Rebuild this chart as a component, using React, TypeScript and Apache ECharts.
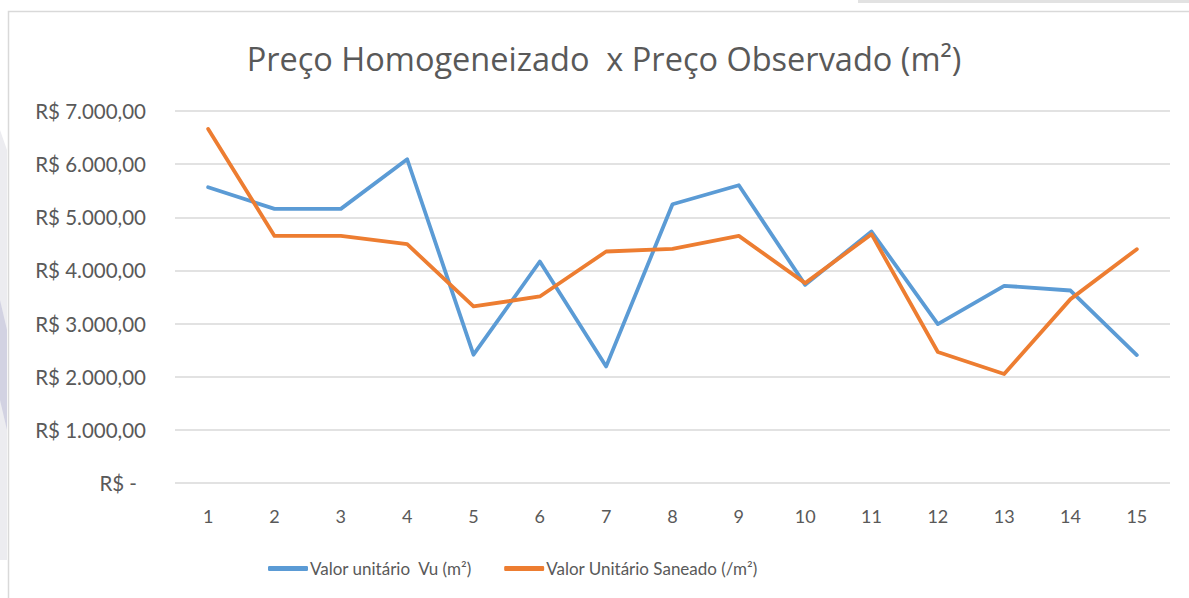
import React, { useEffect, useRef } from "react";
import * as echarts from "echarts";

const categories = ["1", "2", "3", "4", "5", "6", "7", "8", "9", "10", "11", "12", "13", "14", "15"];
const valorUnitario = [5566, 5158, 5158, 6092, 2414, 4168, 2194, 5246, 5603, 3729, 4732, 2990, 3711, 3622, 2408];
const valorSaneado = [6662, 4650, 4650, 4494, 3322, 3510, 4356, 4406, 4650, 3761, 4682, 2464, 2050, 3460, 4400];
const seriesNames = ["Valor unitário  Vu (m²)", "Valor Unitário Saneado (/m²)"];
const titleText = "Preço Homogeneizado  x Preço Observado (m²)";

function formatBRL(v: number): string {
  if (v === 0) return "{z|R$ -}";
  const intPart = Math.round(v).toString().replace(/\B(?=(\d{3})+(?!\d))/g, ".");
  return "R$ " + intPart + ",00";
}

export default function App() {
  const ref = useRef<HTMLDivElement>(null);
  useEffect(() => {
    if (!ref.current) return;
    const chart = echarts.init(ref.current, null, { renderer: "svg" });
    const textColor = "#595959";
    chart.setOption({
      animation: false,
      backgroundColor: "#ffffff",
      grid: { left: 175, right: 19, top: 111, bottom: 115, containLabel: false },
      graphic: [
        {
          type: "rect",
          shape: { x: 8.5, y: 11.5, width: 1200, height: 620 },
          style: { fill: "none", stroke: "#d9d9d9", lineWidth: 1.5 },
          silent: true,
        },
        {
          type: "rect",
          shape: { x: 858, y: 0, width: 340, height: 3 },
          style: { fill: "#e2e2e2" },
          silent: true,
        },
        {
          type: "polygon",
          shape: { points: [[0, 130], [7, 150], [7, 560], [0, 560]] },
          style: { fill: "#ececf0" },
          silent: true,
        },
        {
          type: "polygon",
          shape: { points: [[0, 300], [7, 330], [7, 430], [0, 400]] },
          style: { fill: "#d2d2e2" },
          silent: true,
        },
        {
          type: "text",
          x: 604,
          y: 58,
          style: {
            text: titleText,
            fill: textColor,
            font: "32.5px 'Open Sans'",
            textAlign: "center",
            textVerticalAlign: "middle",
          },
          silent: true,
        },
      ],
      legend: {
        left: 263,
        top: 555,
        itemWidth: 40,
        itemHeight: 5,
        itemGap: 32,
        icon: "roundRect",
        textStyle: { color: textColor, fontSize: 17, fontFamily: "Lato", padding: [0, 0, 0, -3] },
        data: seriesNames,
      },
      xAxis: {
        type: "category",
        data: categories,
        boundaryGap: true,
        axisLine: { show: false },
        axisTick: { show: false },
        axisLabel: { color: textColor, fontSize: 18, fontFamily: "Lato", margin: 24 },
      },
      yAxis: {
        type: "value",
        min: 0,
        max: 7000,
        interval: 1000,
        axisLine: { show: false },
        axisTick: { show: false },
        splitLine: { lineStyle: { color: "#d9d9d9", width: 1.5 } },
        axisLabel: {
          color: textColor,
          fontSize: 20.5,
          fontFamily: "Lato",
          margin: 29,
          formatter: (v: number) => formatBRL(v),
          rich: { z: { color: textColor, fontSize: 20.5, fontFamily: "Lato", padding: [0, 9, 0, 0] } },
        },
      },
      series: [
        {
          name: seriesNames[0],
          type: "line",
          data: valorUnitario,
          symbol: "none",
          lineStyle: { color: "#5b9bd5", width: 3.8, cap: "round", join: "round" },
          itemStyle: { color: "#5b9bd5" },
        },
        {
          name: seriesNames[1],
          type: "line",
          data: valorSaneado,
          symbol: "none",
          lineStyle: { color: "#ed7d31", width: 3.8, cap: "round", join: "round" },
          itemStyle: { color: "#ed7d31" },
        },
      ],
    });
    return () => chart.dispose();
  }, []);
  return (
    <div
      ref={ref}
      style={{ position: "fixed", left: 0, top: 0, width: 1189, height: 598 }}
    />
  );
}
